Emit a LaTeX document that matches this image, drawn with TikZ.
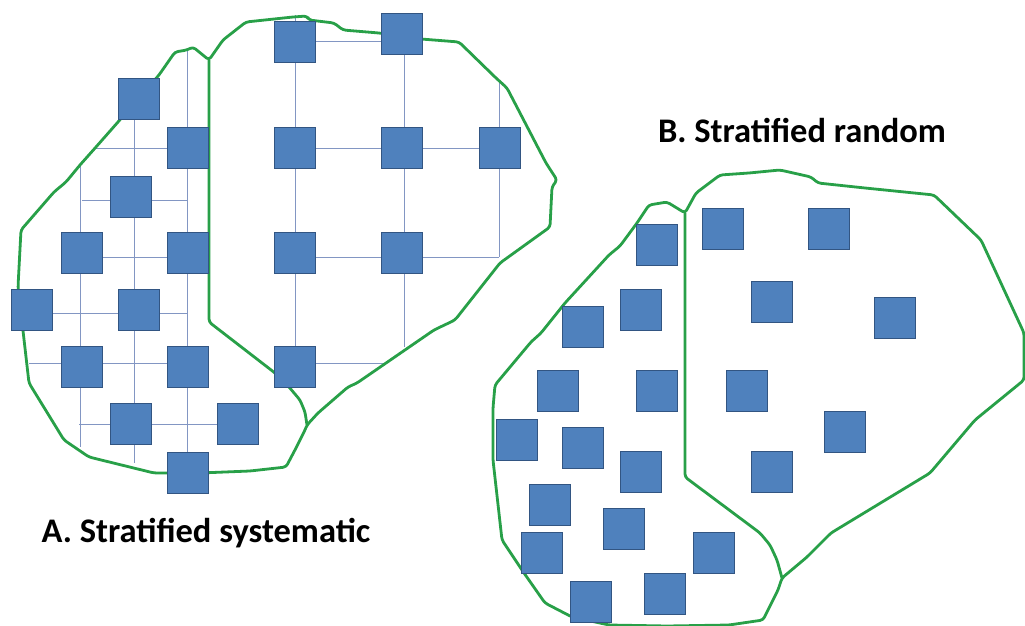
\documentclass[tikz,border=0pt]{standalone}
\usepackage{fontspec}
\setmainfont{Carlito}
\definecolor{bnd}{RGB}{40,160,72}
\definecolor{grd}{RGB}{130,150,195}
\definecolor{sqfill}{RGB}{79,129,189}
\definecolor{sqdraw}{RGB}{50,85,130}
\tikzset{
  sq/.style={draw=sqdraw, fill=sqfill, line width=1.8pt, minimum size=41pt, inner sep=0pt, shape=rectangle},
  bline/.style={draw=bnd, line width=2.8pt, line join=round, line cap=round, rounded corners=3pt},
  gline/.style={draw=grd, line width=1pt},
  lbl/.style={font=\fontsize{34.5}{40}\selectfont\bfseries, anchor=base, inner sep=0pt}
}
\begin{document}
\begin{tikzpicture}[x=1pt,y=-1pt]
\useasboundingbox (0,0) rectangle (1025,626);
% grid lines A
\draw[gline] (295,15) -- (295,367);
\draw[gline] (404,34) -- (404,347);
\draw[gline] (499,80) -- (499,257);
\draw[gline] (134,99) -- (134,463);
\draw[gline] (187,50) -- (187,473);
\draw[gline] (80,163) -- (80,447);
\draw[gline] (295,42) -- (402,42);
\draw[gline] (96,148) -- (188,148);
\draw[gline] (295,148) -- (500,148);
\draw[gline] (82,200) -- (187,200);
\draw[gline] (82,257) -- (188,257);
\draw[gline] (295,257) -- (499,257);
\draw[gline] (32,313) -- (187,313);
\draw[gline] (29,363) -- (188,363);
\draw[gline] (295,363) -- (383,363);
\draw[gline] (79,424) -- (238,424);
% boundary A
\draw[bline] (209,60) -- (223,40) -- (246,22) -- (293,17) -- (307,16) -- (309,20) -- (334,23) -- (343,30) -- (379,33) -- (421,39) -- (459,42) -- (496,78) -- (507,88) -- (546,163) -- (557,180) -- (552,187) -- (550,227) -- (500,263) -- (455,320) -- (434,330) -- (357,383) -- (348,387) -- (318,413) -- (307,425)
 -- (305,430) -- (296,448) -- (286,467) -- (250,471) -- (200,473) -- (154,473) -- (89,457) -- (64,440) -- (29,383) -- (18,287) -- (21,230) -- (54,192) -- (66,182) -- (80,165) -- (96,147) -- (118,122) -- (159,75) -- (175,52) -- (187,50) -- (193,47) -- cycle;
\draw[bline] (209,60) -- (209,322) -- (275,373) -- (289,387) -- (300,400) -- (305,412) -- (307,425);
% boundary B
\draw[bline] (685,213) -- (696,193) -- (720,175) -- (749,173) -- (780,170) -- (811,177) -- (818,183) -- (865,188) -- (934,195) -- (981,240) -- (1024,333) -- (1024,380) -- (975,420) -- (930,473) -- (831,533) -- (807,557) -- (782,578)
 -- (778,590) -- (763,620) -- (729,625) -- (667,626) -- (609,625) -- (572,617) -- (545,603) -- (524,573) -- (502,540) -- (493,460) -- (493,408) -- (495,385) -- (531,342) -- (541,333) -- (565,303) -- (609,255) -- (620,246) -- (637,223) -- (649,205) -- (667,202) -- cycle;
\draw[bline] (685,213) -- (685,477) -- (760,533) -- (770,545) -- (777,560) -- (782,578);
% squares A
\node[sq] (a1) at (295,42) {};
\node[sq] (a2) at (402,34) {};
\node[sq] (a3) at (139,99) {};
\node[sq] (a4) at (188,148) {};
\node[sq] (a5) at (295,148) {};
\node[sq] (a6) at (402,148) {};
\node[sq] (a7) at (500,148) {};
\node[sq] (a8) at (131,197) {};
\node[sq] (a9) at (82,253) {};
\node[sq] (a10) at (188,253) {};
\node[sq] (a11) at (295,253) {};
\node[sq] (a12) at (402,253) {};
\node[sq] (a13) at (32,310) {};
\node[sq] (a14) at (139,310) {};
\node[sq] (a15) at (82,367) {};
\node[sq] (a16) at (188,367) {};
\node[sq] (a17) at (295,367) {};
\node[sq] (a18) at (131,424) {};
\node[sq] (a19) at (238,424) {};
\node[sq] (a20) at (188,473) {};
% squares B
\node[sq] (b1) at (657,245) {};
\node[sq] (b2) at (723,229) {};
\node[sq] (b3) at (829,229) {};
\node[sq] (b4) at (641,310) {};
\node[sq] (b5) at (583,327) {};
\node[sq] (b6) at (772,302) {};
\node[sq] (b7) at (895,318) {};
\node[sq] (b8) at (558,391) {};
\node[sq] (b9) at (657,391) {};
\node[sq] (b10) at (747,391) {};
\node[sq] (b11) at (517,440) {};
\node[sq] (b12) at (583,448) {};
\node[sq] (b13) at (845,432) {};
\node[sq] (b14) at (641,472) {};
\node[sq] (b15) at (772,472) {};
\node[sq] (b16) at (550,505) {};
\node[sq] (b17) at (624,529) {};
\node[sq] (b18) at (542,553) {};
\node[sq] (b19) at (714,553) {};
\node[sq] (b20) at (591,602) {};
\node[sq] (b21) at (665,594) {};
% labels
\node[lbl] (la) at (206,542) {A. Stratified systematic};
\node[lbl] (lb) at (802,142) {B. Stratified random};
\end{tikzpicture}
\end{document}
